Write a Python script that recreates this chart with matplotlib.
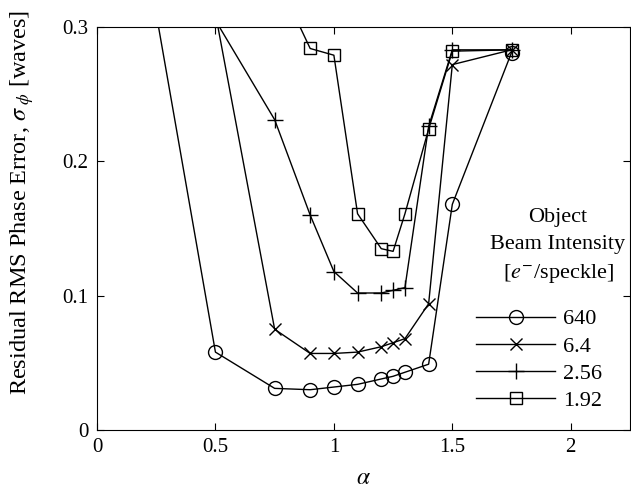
import numpy as np
import matplotlib
matplotlib.use('Agg')
import matplotlib.pyplot as plt

plt.rcParams['font.family'] = ['Liberation Serif', 'DejaVu Serif']
plt.rcParams['mathtext.fontset'] = 'stix'

# alpha values and residual rms phase error for each object beam intensity
alpha_640 = [0.25, 0.5, 0.75, 0.9, 1.0, 1.1, 1.2, 1.25, 1.3, 1.4, 1.5, 1.75]
err_640 = [0.31, 0.058, 0.031, 0.030, 0.032, 0.034, 0.038, 0.040, 0.043, 0.049, 0.168, 0.281]

alpha_64 = [0.5, 0.75, 0.9, 1.0, 1.1, 1.2, 1.25, 1.3, 1.4, 1.5, 1.75]
err_64 = [0.31, 0.075, 0.057, 0.057, 0.058, 0.062, 0.065, 0.068, 0.094, 0.272, 0.283]

alpha_256 = [0.5, 0.75, 0.9, 1.0, 1.1, 1.2, 1.25, 1.3, 1.4, 1.5, 1.75]
err_256 = [0.305, 0.231, 0.160, 0.118, 0.102, 0.102, 0.104, 0.106, 0.226, 0.283, 0.283]

alpha_192 = [0.75, 0.9, 1.0, 1.1, 1.2, 1.25, 1.3, 1.4, 1.5, 1.75]
err_192 = [0.34, 0.284, 0.279, 0.161, 0.135, 0.133, 0.161, 0.224, 0.282, 0.283]

labels = ['640', '6.4', '2.56', '1.92']
xticks = [0, 0.5, 1, 1.5, 2]
yticks = [0, 0.1, 0.2, 0.3]

fig = plt.figure(figsize=(6.31, 4.90), dpi=100)
ax = fig.add_axes([0.1537, 0.1224, 0.8447, 0.8225])

style = dict(color='k', lw=1.0, mfc='none', mec='k', mew=1.0)
ax.plot(alpha_640, err_640, marker='o', ms=10, label=labels[0], **style)
ax.plot(alpha_64, err_64, marker='x', ms=8, label=labels[1], **style)
ax.plot(alpha_256, err_256, marker='+', ms=12, label=labels[2], **style)
ax.plot(alpha_192, err_192, marker='s', ms=9, label=labels[3], **style)

ax.set_xlim(0, 2.25)
ax.set_ylim(0, 0.3)
ax.set_xticks(xticks)
ax.set_xticklabels(['0', '0.5', '1', '1.5', '2'])
ax.set_yticks(yticks)
ax.set_yticklabels(['0', '0.1', '0.2', '0.3'])
ax.tick_params(direction='in', top=True, right=True, length=5, width=0.8,
               labelsize=15, pad=6)
for sp in ax.spines.values():
    sp.set_linewidth(0.8)

ax.set_ylabel(r'Residual RMS Phase Error, $\sigma_{\ \phi}$ [waves]', fontsize=17.5)
ax.yaxis.set_label_coords(-0.115, 0.565)
ax.set_xlabel(r'$\alpha$', fontsize=17, labelpad=8)

ax.text(0.865, 0.455, 'Object\nBeam Intensity\n[$e^{-}$/speckle]', transform=ax.transAxes,
        ha='center', va='center', fontsize=16, linespacing=1.55)
ax.legend(loc='lower left', bbox_to_anchor=(0.711, 0.047), frameon=False, fontsize=16,
          handlelength=3.56, handletextpad=0.36, labelspacing=0.3, borderpad=0,
          borderaxespad=0)

fig.savefig('out.png', dpi=100)
